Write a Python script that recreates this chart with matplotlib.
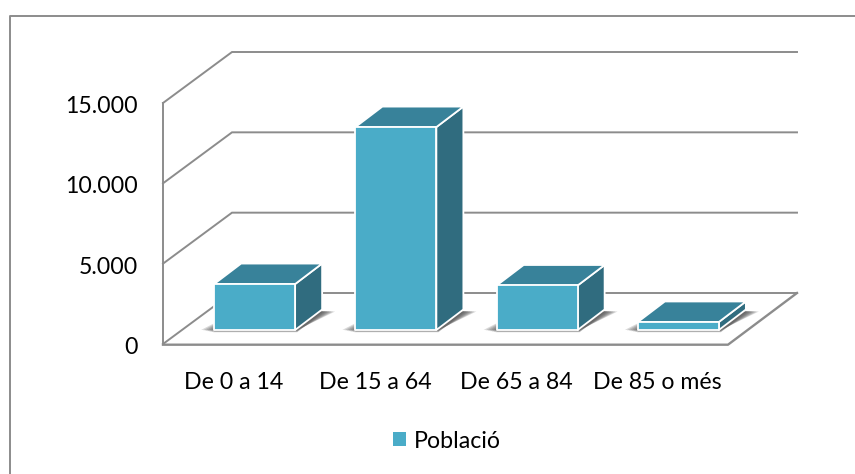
import matplotlib.pyplot as plt
from matplotlib.lines import Line2D
from matplotlib.patches import Patch, Polygon
from matplotlib.transforms import ScaledTranslation

# Poblacio per grups d'edat
categories = ['De 0 a 14', 'De 15 a 64', 'De 65 a 84', 'De 85 o més']
poblacio = [2860, 12630, 2770, 500]
y_ticks = [0, 5000, 10000, 15000]
y_labels = ['0', '5.000', '10.000', '15.000']

W, H = 855, 474
FRONT, TOP, SIDE = '#4aacc8', '#38829a', '#306c7f'
GRID = '#8c8c8c'

plt.rcParams['font.family'] = ['Lato', 'DejaVu Sans']

fig = plt.figure(figsize=(W / 100, H / 100), dpi=100)
# plot box: x 163-728 px, y 103-344 px
ax = fig.add_axes([163 / W, 1 - 344 / H, 565 / W, 241 / H])
ax.set_xlim(-0.5, 3.5)
ax.set_ylim(0, 15000)
for s in ax.spines.values():
    s.set_visible(False)

# size of one pixel in data units
px = 4 / 565
py = 15000 / 241

# walls and floor
DX, DY = 69, 51
for t in y_ticks:
    xs = [-0.5, -0.5 + DX * px, 3.5 + DX * px]
    ys = [t, t + DY * py, t + DY * py]
    ax.plot(xs, ys, color=GRID, lw=1.4, clip_on=False, zorder=1, solid_joinstyle='miter')
ax.plot([-0.5, -0.5], [0, 15000], color=GRID, lw=1.4, clip_on=False, zorder=1)
ax.plot([-0.5, 3.5, 3.5 + DX * px], [-0.7 * py, -0.7 * py, DY * py], color=GRID, lw=1.7,
        clip_on=False, zorder=1)

# bars
bw = 81 * px
shift_x = 21 * px
base = 14 * py
bar_dx = 27 * px
bar_dy = 20.5 * py

for i, v in enumerate(poblacio):
    x0 = i + shift_x - bw / 2
    x1 = x0 + bw
    top = base + v

    # soft shadow on the floor
    for g in [13, 11, 9, 7, 5, 3, 1]:
        ax.add_patch(Polygon([(x0 - g * px, base - 2.5 * py + 0.2 * g * py),
                              (x1 + 2 * px, base - 2.5 * py + 0.2 * g * py),
                              (x1 + bar_dx + g * px, base + bar_dy - 2 * py),
                              (x0 + bar_dx, base + bar_dy)],
                             closed=True, fc='#444444', ec='none', alpha=0.2, zorder=2, clip_on=False))

    faces = [
        ([(x1, base), (x1 + bar_dx, base + bar_dy), (x1 + bar_dx, top + bar_dy), (x1, top)], SIDE),
        ([(x0, top), (x1, top), (x1 + bar_dx, top + bar_dy), (x0 + bar_dx, top + bar_dy)], TOP),
        ([(x0, base), (x1, base), (x1, top), (x0, top)], FRONT),
    ]
    for pts, c in faces:
        ax.add_patch(Polygon(pts, closed=True, fc=c, ec='white', lw=1.3, zorder=3,
                             joinstyle='round', clip_on=False))

ax.set_xticks(range(4))
ax.set_xticklabels(categories)
ax.set_yticks(y_ticks)
ax.set_yticklabels(y_labels)
ax.tick_params(axis='x', length=0, pad=20, labelsize=16.7, colors='black')
ax.tick_params(axis='y', length=0, pad=18, labelsize=16.7, colors='black')

# nudge the value labels down a little
nudge = ScaledTranslation(0, -1.5 / 100, fig.dpi_scale_trans)
for lab in ax.get_yticklabels():
    lab.set_transform(lab.get_transform() + nudge)

ax.legend(handles=[Patch(fc=FRONT, ec='none', label='Població')], frameon=False,
          loc='center', bbox_to_anchor=(447 / W, 1 - 441 / H),
          bbox_transform=fig.transFigure, fontsize=16.7,
          handlelength=0.56, handleheight=0.56, handletextpad=0.32)

# chart frame, open on the right and at the bottom
fig.add_artist(Line2D([9.5 / W, 9.5 / W, 1], [0, 1 - 16 / H, 1 - 16 / H], color=GRID, lw=1.4))

fig.savefig('out.png', dpi=100)
